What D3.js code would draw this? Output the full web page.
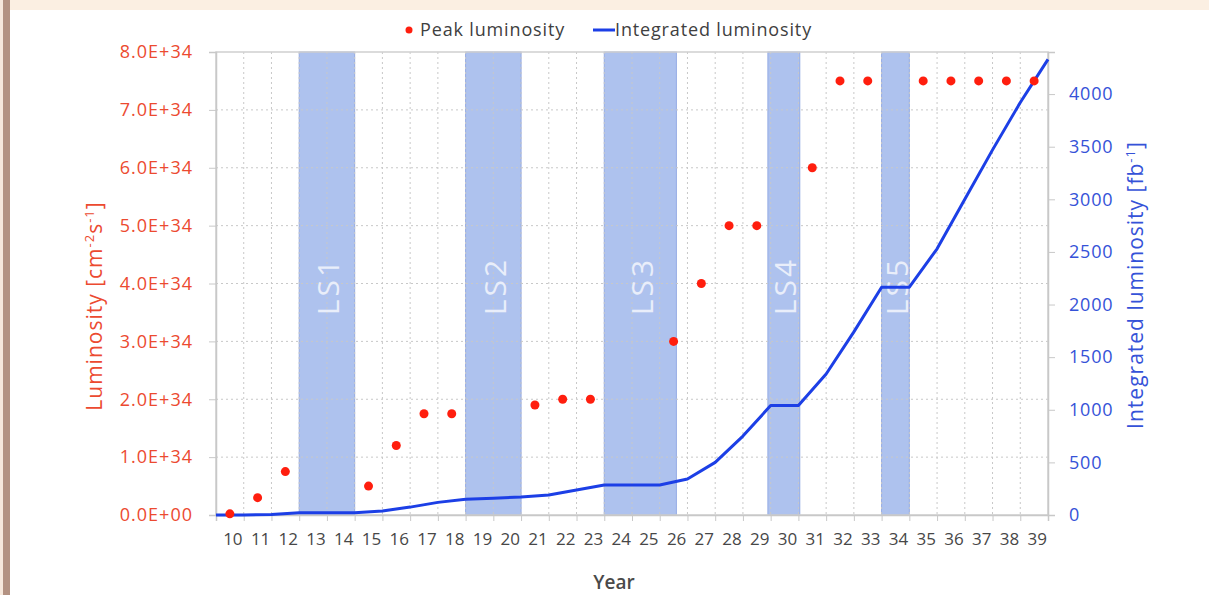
<!DOCTYPE html>
<html>
<head>
<meta charset="utf-8">
<script src="https://cdn.jsdelivr.net/npm/d3@7"></script>
<style>
  html, body { margin: 0; padding: 0; background: #ffffff; }
  svg { display: block; }
  text { font-family: "Open Sans", "DejaVu Sans", sans-serif; }
</style>
</head>
<body>
<svg id="chart" width="1209" height="595"></svg>
<script>
// Years shown on the category axis
const years = [10,11,12,13,14,15,16,17,18,19,20,21,22,23,24,25,26,27,28,29,30,31,32,33,34,35,36,37,38,39];

// Peak luminosity per year [cm^-2 s^-1]; null during long shutdowns
const peakLumi = [0.02e34, 0.3e34, 0.75e34, null, null, 0.5e34, 1.2e34, 1.75e34, 1.75e34, null, null,
                  1.9e34, 2.0e34, 2.0e34, null, null, 3.0e34, 4.0e34, 5.0e34, 5.0e34, null,
                  6.0e34, 7.5e34, 7.5e34, null, 7.5e34, 7.5e34, 7.5e34, 7.5e34, 7.5e34];

// Integrated luminosity [fb^-1] at each year boundary (start of year 10 ... end of year 39)
const intEdges = [10,11,12,13,14,15,16,17,18,19,20,21,22,23,24,25,26,27,28,29,30,31,32,33,34,35,36,37,38,39,40];
const intLumi  = [0, 1, 5, 22, 22, 22, 38, 75, 120, 150, 160, 170, 190, 238, 285, 285, 285, 342,
                  500, 750, 1040, 1040, 1340, 1740, 2165, 2165, 2530, 3000, 3470, 3920, 4330];

// Long shutdown periods (year-edge coordinates)
const lsNames = ["LS1", "LS2", "LS3", "LS4", "LS5"];
const lsStart = [13, 19, 24, 29.9, 34];
const lsEnd   = [15, 21, 26.6, 31.05, 35];

// Axis tick values and labels
const leftTicks = [0, 1e34, 2e34, 3e34, 4e34, 5e34, 6e34, 7e34, 8e34];
const leftTickLabels = ["0.0E+00","1.0E+34","2.0E+34","3.0E+34","4.0E+34","5.0E+34","6.0E+34","7.0E+34","8.0E+34"];
const rightTicks = [0, 500, 1000, 1500, 2000, 2500, 3000, 3500, 4000];

const svg = d3.select("#chart");
const W = 1209, H = 595;
const plot = { left: 216, right: 1048, top: 52, bottom: 515 };

// Page frame: beige strip on top and a brown rule on the left
svg.append("rect").attr("x", 0).attr("y", 0).attr("width", W).attr("height", 10).attr("fill", "#fbefe2");
svg.append("rect").attr("x", 0).attr("y", 0).attr("width", 3).attr("height", H).attr("fill", "#f6e8dc");
svg.append("rect").attr("x", 3).attr("y", 0).attr("width", 7).attr("height", H).attr("fill", "#b39282");

// Scales
const xBand = d3.scaleBand().domain(years).range([plot.left, plot.right]).padding(0);
const xEdge = d3.scaleLinear().domain([10, 40]).range([plot.left, plot.right]);
const yLeft = d3.scaleLinear().domain([0, 8e34]).range([plot.bottom, plot.top]);
const yRight = d3.scaleLinear().domain([0, 4400]).range([plot.bottom, plot.top]);

// Shutdown bands
const ls = lsNames.map((n, i) => ({ name: n, s: lsStart[i], e: lsEnd[i] }));
svg.append("g").selectAll("rect").data(ls).join("rect")
  .attr("x", d => xEdge(d.s))
  .attr("y", plot.top)
  .attr("width", d => xEdge(d.e) - xEdge(d.s))
  .attr("height", plot.bottom - plot.top)
  .attr("fill", "#aec2ee")
  .attr("stroke", "#94abe4")
  .attr("stroke-width", 1);

// Grid: dotted lines at year boundaries and at left-axis ticks
const grid = svg.append("g").attr("stroke", "#c8c8c8").attr("stroke-width", 1).attr("stroke-dasharray", "2,3");
grid.selectAll("line.v").data(intEdges.slice(1, -1)).join("line")
  .attr("class", "v")
  .attr("x1", d => xEdge(d)).attr("x2", d => xEdge(d))
  .attr("y1", plot.top).attr("y2", plot.bottom);
grid.selectAll("line.h").data(leftTicks.slice(1, -1)).join("line")
  .attr("class", "h")
  .attr("x1", plot.left).attr("x2", plot.right)
  .attr("y1", d => yLeft(d)).attr("y2", d => yLeft(d));

// Plot frame
svg.append("rect")
  .attr("x", plot.left).attr("y", plot.top)
  .attr("width", plot.right - plot.left).attr("height", plot.bottom - plot.top)
  .attr("fill", "none").attr("stroke", "#cfcfcf").attr("stroke-width", 1.5);

// Shutdown labels
svg.append("g").selectAll("text").data(ls).join("text")
  .attr("transform", d => `translate(${(xEdge(d.s) + xEdge(d.e)) / 2 + 1},286) rotate(-90)`)
  .attr("text-anchor", "middle")
  .attr("dominant-baseline", "central")
  .attr("font-size", 30)
  .attr("font-weight", 400)
  .attr("letter-spacing", 3)
  .attr("fill", "#e9eefa")
  .text(d => d.name);

// Left axis
const axL = svg.append("g").attr("transform", `translate(${plot.left},0)`)
  .call(d3.axisLeft(yLeft).tickValues(leftTicks)
    .tickFormat((d, i) => leftTickLabels[i]).tickSize(7).tickPadding(16));
axL.select(".domain").attr("stroke", "#c8c8c8").attr("stroke-width", 1.5);
axL.selectAll(".tick line").attr("stroke", "#c8c8c8");
axL.selectAll(".tick text").attr("fill", "#ec4a30").attr("font-size", 18).attr("letter-spacing", 1)
  .attr("font-family", "'Open Sans', sans-serif");

// Right axis
const axR = svg.append("g").attr("transform", `translate(${plot.right},0)`)
  .call(d3.axisRight(yRight).tickValues(rightTicks).tickFormat(d3.format("d")).tickSize(7).tickPadding(14));
axR.select(".domain").attr("stroke", "#c8c8c8").attr("stroke-width", 1.5);
axR.selectAll(".tick line").attr("stroke", "#c8c8c8");
axR.selectAll(".tick text").attr("fill", "#3552d8").attr("font-size", 18).attr("letter-spacing", 0.8)
  .attr("font-family", "'Open Sans', sans-serif");

// Bottom axis: tick marks at year boundaries, labels at year centres
const axBTicks = svg.append("g").attr("transform", `translate(0,${plot.bottom})`)
  .call(d3.axisBottom(xEdge).tickValues(intEdges).tickFormat("").tickSize(6));
axBTicks.select(".domain").attr("stroke", "#c8c8c8").attr("stroke-width", 1.5);
axBTicks.selectAll(".tick line").attr("stroke", "#c8c8c8");
const axB = svg.append("g").attr("transform", `translate(3,${plot.bottom})`)
  .call(d3.axisBottom(xBand).tickSize(0).tickPadding(18));
axB.select(".domain").remove();
axB.selectAll(".tick text").attr("fill", "#474747").attr("font-size", 17)
  .attr("font-family", "'Open Sans', sans-serif");

// Integrated luminosity line
const line = d3.line()
  .x((d, i) => xEdge(intEdges[i]))
  .y(d => yRight(d))
  .curve(d3.curveLinear);
svg.append("path").datum(intLumi)
  .attr("d", line)
  .attr("fill", "none")
  .attr("stroke", "#1c3fe6")
  .attr("stroke-width", 3)
  .attr("stroke-linejoin", "round");

// Peak luminosity markers
const peaks = years.map((y, i) => ({ year: y, v: peakLumi[i] })).filter(d => d.v !== null);
svg.append("g").selectAll("circle").data(peaks).join("circle")
  .attr("cx", d => xBand(d.year) + xBand.bandwidth() / 2)
  .attr("cy", d => yLeft(d.v))
  .attr("r", 4.5)
  .attr("fill", "#ff1e0e");

// Legend
const lg = svg.append("g");
lg.append("circle").attr("cx", 409).attr("cy", 30).attr("r", 3.5).attr("fill", "#ff1e0e");
lg.append("text").attr("x", 420).attr("y", 36).attr("font-size", 18).attr("letter-spacing", 0.85)
  .attr("fill", "#404040").text("Peak luminosity");
lg.append("line").attr("x1", 593).attr("x2", 615).attr("y1", 30).attr("y2", 30)
  .attr("stroke", "#1c3fe6").attr("stroke-width", 3);
lg.append("text").attr("x", 615).attr("y", 36).attr("font-size", 18).attr("letter-spacing", 0.85)
  .attr("fill", "#404040").text("Integrated luminosity");

// Axis titles
svg.append("text").attr("x", 614).attr("y", 589).attr("text-anchor", "middle")
  .attr("font-size", 19).attr("font-weight", 600).attr("fill", "#4a4a4a").text("Year");

const tL = svg.append("text").attr("transform", "translate(102,306) rotate(-90)")
  .attr("text-anchor", "middle").attr("font-size", 21).attr("letter-spacing", 1).attr("fill", "#ec4a30");
tL.append("tspan").text("Luminosity [cm");
tL.append("tspan").attr("dy", -8).attr("font-size", 13).text("-2");
tL.append("tspan").attr("dy", 8).text("s");
tL.append("tspan").attr("dy", -8).attr("font-size", 13).text("-1");
tL.append("tspan").attr("dy", 8).text("]");

const tR = svg.append("text").attr("transform", "translate(1143,285) rotate(-90)")
  .attr("text-anchor", "middle").attr("font-size", 21).attr("letter-spacing", 1).attr("fill", "#3552d8");
tR.append("tspan").text("Integrated luminosity [fb");
tR.append("tspan").attr("dy", -8).attr("font-size", 13).text("-1");
tR.append("tspan").attr("dy", 8).text("]");
</script>
</body>
</html>
